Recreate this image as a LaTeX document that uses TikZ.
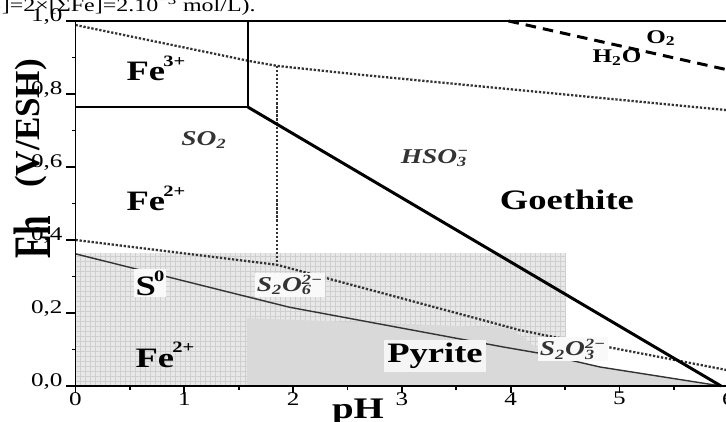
\documentclass[tikz,border=0pt]{standalone}
\usepackage{fontspec}
\setmainfont{Liberation Serif}[FakeStretch=1.3]
\newfontfamily\plainserif{Liberation Serif}
\usepackage{tikz}
\usetikzlibrary{calc}
\newcommand{\subsup}[2]{\rlap{\textsubscript{#1}}\textsuperscript{#2}}
\newcommand{\chg}[1]{\kern-1pt\raisebox{1.1ex}{\fontsize{9}{9}\selectfont#1}}

\begin{document}
\begin{tikzpicture}[x=2.176cm,y=7.3cm,
  frame/.style={line width=1.1pt},
  feline/.style={line width=1.7pt},
  boxline/.style={line width=1.4pt},
  sline/.style={densely dotted,line width=1.3pt,black!80},
  thinline/.style={line width=0.8pt,black!80},
  waterline/.style={dash pattern=on 6pt off 4pt,line width=1.7pt},
  field/.style={font=\bfseries\fontsize{16}{16}\selectfont},
  species/.style={font=\bfseries\itshape\fontsize{12}{12}\selectfont,text=black!80},
  water/.style={font=\bfseries\fontsize{11}{11}\selectfont,inner sep=1pt},
  ticklab/.style={font=\fontsize{11}{11}\selectfont,inner sep=1pt}]
\useasboundingbox (-0.694,-0.0986) rectangle (5.979,1.0575);

\fill[gray!18] (0,0) rectangle (4.51,0.364);
\draw[gray!38,line width=0.3pt,step=1mm] (0,0) grid (4.51,0.364);
\fill[gray!30] (1.576,0) -- (1.576,0.186) -- (3.993,0.159) -- (4.315,0.088)
  -- (4.821,0.052) -- (5.933,0) -- cycle;

\coordinate (fetop) at (1.585,1);
\coordinate (fecorner) at (1.585,0.764);
\coordinate (feleft) at (0,0.764);
\coordinate (feend) at (5.933,0);
\coordinate (vtop) at (1.852,0.877);
\coordinate (vbot) at (1.852,0.332);
\coordinate (wtop) at (3.98,1);
\coordinate (wend) at (5.98,0.867);

\draw[sline] (0,0.989) -- (1.604,0.890) -- (vtop) -- (2.642,0.852) -- (5.98,0.756);
\draw[sline] (vtop) -- (vbot);
\draw[sline] (0,0.40) -- (vbot) -- (4.085,0.153) -- (4.297,0.140) -- (4.94,0.104) -- (5.98,0.044);
\draw[thinline] (0,0.362) -- (1.962,0.216) -- (3.929,0.107) -- (4.297,0.088) -- (4.821,0.052) -- (feend);
\draw[waterline] (wtop) -- (wend);
\draw[boxline] (feleft) -- (fecorner) -- (fetop);
\draw[feline] (fecorner) -- (feend);

\draw[frame] (0,1) -- (0,0) -- (5.979,0);
\draw[frame] (0,1) -- (5.979,1);
\foreach \e/\lab [count=\i] in {0/{0,0},0.2/{0,2},0.4/{0,4},0.6/{0,6},0.8/{0,8},1/{1,0}} {
  \draw[frame] (0,\e) -- (-0.083,\e);
  \node[ticklab,anchor=east] (ehtick\i) at (-0.1,{\e+0.011}) {\lab};
}
\foreach \e in {0.1,0.3,0.5,0.7,0.9}
  \draw[frame] (0,\e) -- (-0.035,\e);
\foreach \p in {0,...,6} {
  \draw[frame] (\p,0) -- (\p,-0.019);
  \node[ticklab] (phtick\p) at (\p,-0.035) {\p};
}
\foreach \p in {0.5,1.5,...,5.5}
  \draw[frame] (\p,0) -- (\p,-0.01);

\node[font=\plainserif\bfseries\fontsize{20}{20}\selectfont,rotate=90] (ehlabel) at (-0.40,0.622)
  {\raisebox{-6pt}{\scalebox{1}[1.5]{Eh}}\hspace{0.8em}(V/ESH)};
\node[font=\bfseries\fontsize{17}{17}\selectfont,anchor=base] (phlabel) at (2.596,-0.0904) {pH};
\node[font=\fontsize{10.5}{10.5}\selectfont,anchor=base east,inner sep=0pt] (note) at (1.659,1.027)
  {S]=2×[ΣFe]=2.10\textsuperscript{−3} mol/L).};

\node[field] (fe3) at (0.74,0.871) {Fe\chg{3+}};
\node[species] (so2) at (1.181,0.674) {SO\textsubscript{2}};
\node[field] (fe2top) at (0.74,0.515) {Fe\chg{2+}};
\node[species] (hso3) at (3.304,0.625) {HSO\subsup{3}{−}};
\node[field] (goethite) at (4.517,0.510) {Goethite};
\node[water] (o2) at (5.381,0.953) {O\textsubscript{2}};
\node[water] (h2o) at (4.977,0.899) {H\textsubscript{2}O};
\node[field,fill=gray!5,inner sep=1pt] (s0) at (0.685,0.282) {S\chg{0}};
\node[species,fill=gray!5,inner sep=1pt] (s2o6) at (1.971,0.277) {S\textsubscript{2}O\subsup{6}{2−}};
\node[field] (fe2low) at (0.823,0.085) {Fe\chg{2+}};
\node[field,fill=gray!8,inner sep=2pt] (pyrite) at (3.304,0.082) {Pyrite};
\node[species,fill=gray!5,inner sep=1pt] (s2o3) at (4.573,0.101) {S\textsubscript{2}O\subsup{3}{2−}};
\end{tikzpicture}
\end{document}
